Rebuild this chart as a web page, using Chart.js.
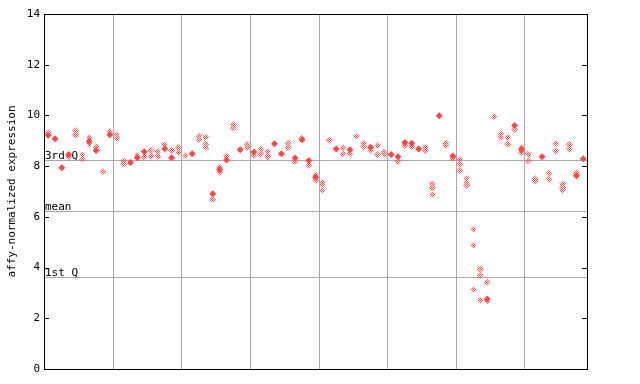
<!DOCTYPE html>
<html><head><meta charset="utf-8">
<script src="https://cdn.jsdelivr.net/npm/chart.js@4"></script>
<style>html,body{margin:0;padding:0;background:#fff}#wrap{width:640px;height:384px}</style>
</head><body><div id="wrap"><canvas id="c" width="640" height="384"></canvas></div>
<script>
// one entry per sample (left to right); solid = filled diamonds, pattern = dithered diamonds
const solidValues = [
 [9.22],[9.08],[7.94],[8.46],[],[],[8.98],[8.62],[],[9.24],
 [],[],[8.14],[8.33],[8.57],[],[],[8.69],[8.33],[],
 [],[8.49],[],[],[6.91],[7.87],[8.24],[],[8.65],[],
 [8.56],[],[],[8.88],[8.49],[],[8.32],[9.04],[8.22],[7.56],
 [],[],[8.68],[],[8.65],[],[],[8.75],[],[],
 [8.46],[8.37],[8.93],[8.90],[8.68],[],[],[9.99],[],[8.40],
 [],[],[],[],[2.76],[],[],[],[9.60],[8.66],
 [],[],[8.37],[],[],[],[],[7.62],[8.29]
];
const patternValues = [
 [9.33],[],[],[8.36],[9.40,9.24],[8.46,8.28],[9.13,8.89],[8.76],[7.79],[9.37],
 [9.25,9.12],[8.20,8.08],[],[8.43],[8.36],[8.62,8.40],[8.58,8.40],[8.85],[8.62],[8.74,8.54],
 [8.42],[],[9.19,9.04],[9.14,8.86,8.73],[6.69],[7.96,7.77],[8.40],[9.63,9.50],[],[8.85,8.74],
 [8.42],[8.68,8.49],[8.58,8.37],[],[],[8.90,8.75],[8.19],[9.11],[8.04],[7.64,7.45],
 [7.36,7.27,7.05],[9.02],[],[8.73,8.48],[8.49],[9.18],[8.90,8.77],[8.61],[8.82,8.46],[8.56,8.50],
 [],[8.18],[8.81],[8.77],[],[8.75,8.62],[7.30,7.15,6.88],[],[8.90,8.81],[8.31],
 [8.27,8.08,7.83],[7.52,7.35,7.24],[5.51,4.88,3.14],[3.93,3.70,2.71],[3.42,2.68],[9.95],[9.27,9.14],[9.14,8.86],[9.45],[8.74,8.54],
 [8.48,8.20],[7.50,7.40],[],[7.72,7.48],[8.88,8.61],[7.30,7.15,7.06],[8.85,8.68],[7.72],[]
];
const yTicks = [0, 2, 4, 6, 8, 10, 12, 14];
const refLabels = ['3rd Q', 'mean', '1st Q'];
const refValues = [8.24, 6.23, 3.62];
const groupSize = 10;
const yTitle = 'affy-normalized expression';

const RED = '#ff4848';
const pc = document.createElement('canvas'); pc.width = 2; pc.height = 2;
const pctx = pc.getContext('2d'); pctx.fillStyle = RED; pctx.fillRect(0,0,1,1); pctx.fillRect(1,1,1,1);
const ctx0 = document.getElementById('c').getContext('2d');
const pattern = ctx0.createPattern(pc, 'repeat');

function toPoints(arr){ const out=[]; arr.forEach((vals,i)=>vals.forEach(v=>out.push({x:i,y:v}))); return out; }
const n = solidValues.length;
const bounds = []; for (let b = groupSize - 0.5; b < n - 1; b += groupSize) bounds.push(b);

const FONT = '"DejaVu Sans Mono", monospace';
const frame = {
  id: 'frame',
  beforeDatasetsDraw(chart){
    const {ctx, chartArea:a, scales:{y}} = chart;
    ctx.save();
    ctx.strokeStyle = '#a8a8a8'; ctx.lineWidth = 1;
    refValues.forEach(v => { const py = Math.round(y.getPixelForValue(v)) + 0.5;
      ctx.beginPath(); ctx.moveTo(a.left, py); ctx.lineTo(a.right, py); ctx.stroke(); });
    ctx.fillStyle = '#000'; ctx.font = '11px ' + FONT; ctx.textAlign = 'left'; ctx.textBaseline = 'alphabetic';
    refLabels.forEach((t,k) => { const py = Math.round(y.getPixelForValue(refValues[k])); ctx.fillText(t, a.left + 1, py - 1); });
    ctx.restore();
  },
  afterDraw(chart){
    const {ctx, chartArea:a, scales:{y}} = chart;
    ctx.save();
    ctx.strokeStyle = '#000'; ctx.lineWidth = 1;
    ctx.strokeRect(a.left + 0.5, a.top + 0.5, a.right - a.left, a.bottom - a.top);
    ctx.beginPath();
    yTicks.forEach(v => { const py = Math.round(y.getPixelForValue(v)) + 0.5;
      ctx.moveTo(a.left, py); ctx.lineTo(a.left + 5, py);
      ctx.moveTo(a.right - 5, py); ctx.lineTo(a.right + 1, py); });
    ctx.stroke();
    ctx.restore();
  }
};

new Chart(ctx0, {
  type: 'scatter',
  data: { datasets: [
    { data: toPoints(patternValues), backgroundColor: pattern, borderWidth: 0, pointStyle: 'rectRot', pointRadius: 3.5 },
    { data: toPoints(solidValues), backgroundColor: RED, borderColor: RED, borderWidth: 0, pointStyle: 'rectRot', pointRadius: 3.5 }
  ]},
  options: {
    responsive: false, animation: false, events: [], devicePixelRatio: 1,
    layout: { padding: { top: 14, right: 53, bottom: 15, left: 0 } },
    plugins: { legend: { display: false }, tooltip: { enabled: false } },
    scales: {
      x: { type: 'linear', min: -0.6, max: n - 0.45,
        afterBuildTicks: s => { s.ticks = bounds.map(v => ({value: v})); },
        afterFit: s => { s.height = 0; },
        ticks: { display: false }, border: { display: false },
        grid: { color: '#a8a8a8', lineWidth: 1, drawTicks: false } },
      y: { min: 0, max: 14,
        afterBuildTicks: s => { s.ticks = yTicks.map(v => ({value: v})); },
        afterFit: s => { s.width = 44; },
        border: { display: false },
        grid: { drawOnChartArea: false, drawTicks: false },
        ticks: { padding: 4, color: '#000', font: { family: FONT, size: 11 } },
        title: { display: true, text: yTitle, color: '#000', font: { family: FONT, size: 11 }, padding: { top: 6, bottom: 0 } } }
    }
  },
  plugins: [frame]
});
</script></body></html>
